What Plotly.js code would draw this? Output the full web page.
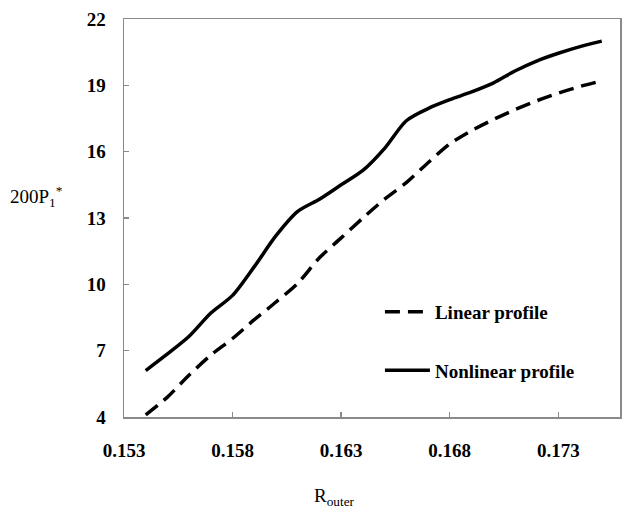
<!DOCTYPE html>
<html>
<head>
<meta charset="utf-8">
<script src="https://cdn.plot.ly/plotly-3.0.1.min.js"></script>
<style>html,body{margin:0;padding:0;background:#fff;}#chart{width:622px;height:509px;}</style>
</head>
<body>
<div id="chart"></div>
<script>
var rOuter = [0.154,0.155,0.156,0.157,0.158,0.159,0.160,0.161,0.162,0.163,0.164,0.165,0.166,0.167,0.168,0.169,0.170,0.171,0.172,0.173,0.174,0.175];
var linearProfile = [4.1,4.9,5.9,6.8,7.55,8.4,9.2,10.05,11.2,12.1,13.0,13.85,14.6,15.5,16.35,16.95,17.45,17.9,18.3,18.65,18.95,19.2];
var nonlinearProfile = [6.1,6.85,7.65,8.7,9.5,10.8,12.2,13.3,13.85,14.5,15.15,16.15,17.4,17.95,18.35,18.7,19.1,19.65,20.1,20.45,20.75,21.0];
var yTicks = [4,7,10,13,16,19,22];
var xTicks = [0.153,0.158,0.163,0.168,0.173];
var seriesNames = ['Linear profile','Nonlinear profile'];

var serif = 'Liberation Serif, Times New Roman, serif';
var axisCol = '#8a8a8a';

var traces = [
  {x: rOuter, y: linearProfile, name: seriesNames[0], mode: 'lines', legendgroup: 'a',
   line: {color: '#000', width: 3.5, dash: '15px,8px', shape: 'spline', smoothing: 0.8}},
  {x: rOuter, y: nonlinearProfile, name: seriesNames[1], mode: 'lines', legendgroup: 'b',
   line: {color: '#000', width: 3.5, shape: 'spline', smoothing: 0.8}}
];

var layout = {
  width: 622, height: 509,
  margin: {l: 124, r: 1.5, t: 19, b: 92},
  paper_bgcolor: '#fff', plot_bgcolor: '#fff',
  showlegend: true,
  legend: {x: 0.516, y: 0.312, xanchor: 'left', yanchor: 'top', bgcolor: 'rgba(0,0,0,0)',
           font: {family: serif, size: 19, color: '#000', weight: 'bold'},
           tracegroupgap: 31, itemwidth: 45, traceorder: 'grouped'},
  xaxis: {range: [0.153, 0.17584], tickvals: xTicks, ticktext: xTicks.map(function(v){return v.toFixed(3);}),
          ticks: 'inside', ticklen: 5, tickcolor: axisCol, tickwidth: 1.5,
          showline: true, linecolor: axisCol, linewidth: 1.5, mirror: true,
          showgrid: false, zeroline: false, ticklabelstandoff: 16,
          tickfont: {family: serif, size: 19, color: '#000', weight: 'bold'}},
  yaxis: {range: [4, 22], tickvals: yTicks,
          ticks: 'inside', ticklen: 5, tickcolor: axisCol, tickwidth: 1.5,
          showline: true, linecolor: axisCol, linewidth: 1.5, mirror: true,
          showgrid: false, zeroline: false, ticklabelstandoff: 13,
          tickfont: {family: serif, size: 19, color: '#000', weight: 'bold'}},
  annotations: [
    {text: '200P<sub>1</sub><sup>*</sup>', xref: 'paper', yref: 'paper', x: -0.177, y: 0.553,
     xanchor: 'center', yanchor: 'middle', showarrow: false,
     font: {family: serif, size: 19, color: '#000'}},
    {text: 'R<sub>outer</sub>', xref: 'paper', yref: 'paper', x: 0.425, y: -0.166,
     xanchor: 'center', yanchor: 'top', showarrow: false,
     font: {family: serif, size: 19, color: '#000'}}
  ]
};

Plotly.newPlot('chart', traces, layout, {displayModeBar: false, staticPlot: true});
</script>
</body>
</html>
